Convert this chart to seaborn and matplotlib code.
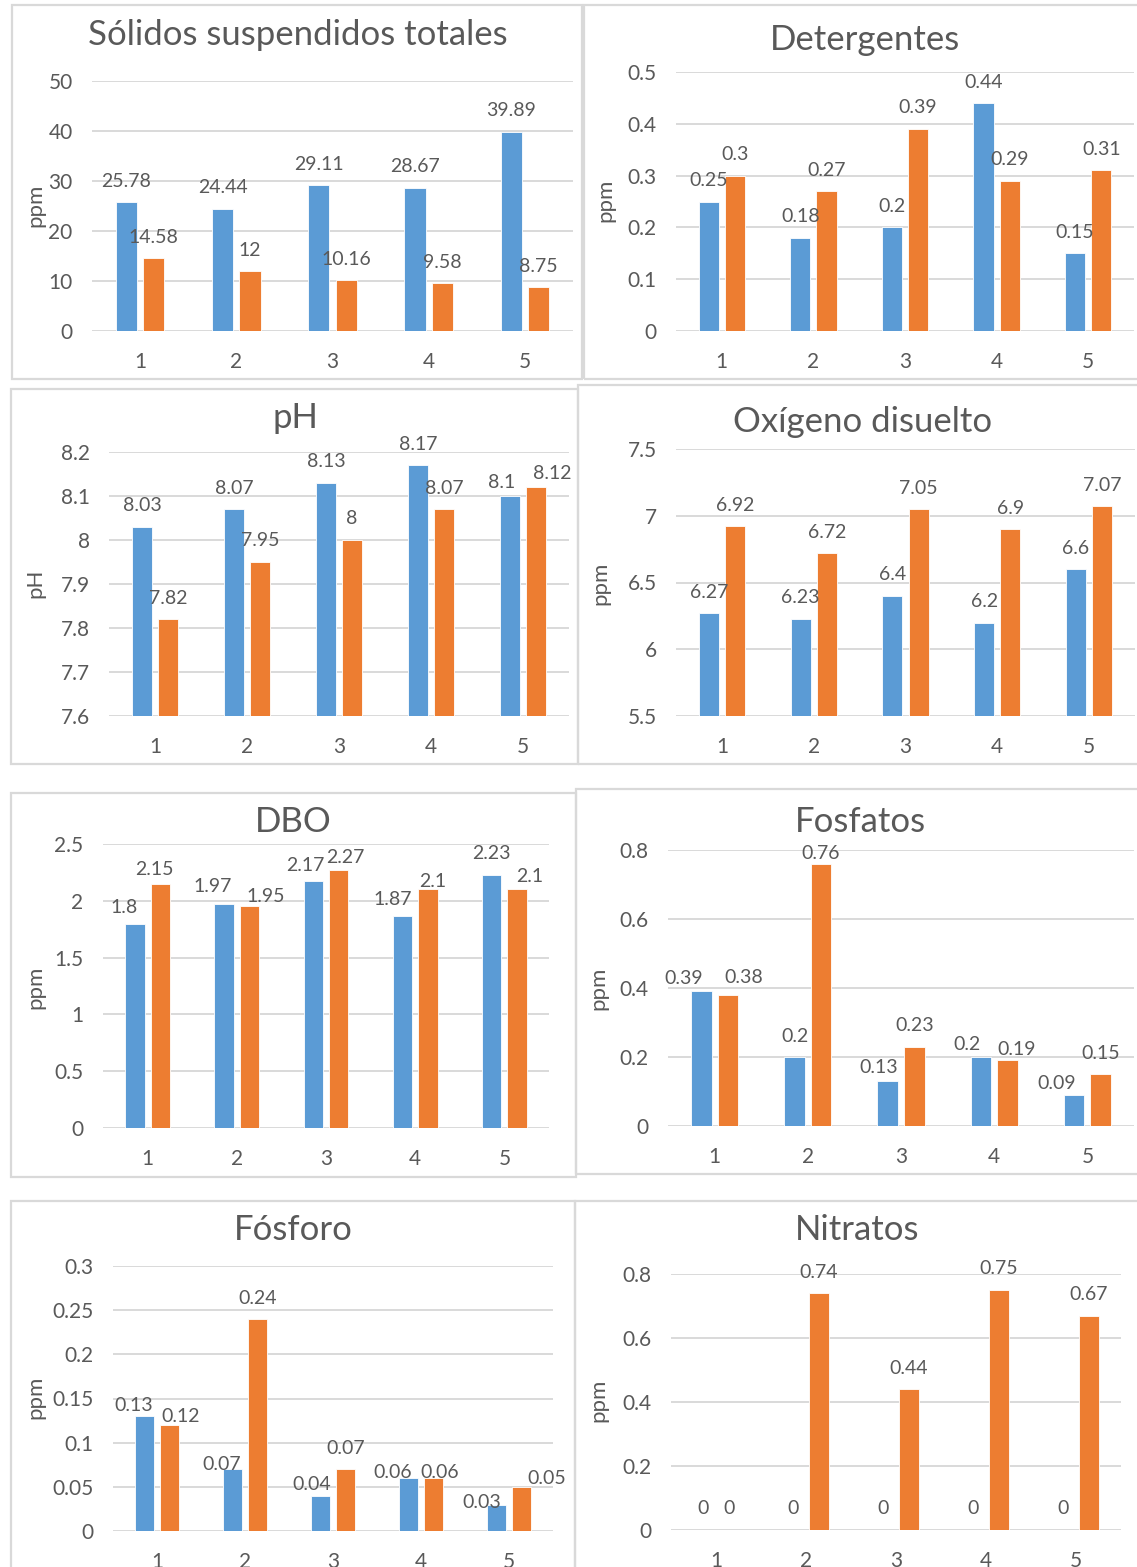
import matplotlib
matplotlib.use("Agg")
import matplotlib.pyplot as plt
from matplotlib.patches import Rectangle
from matplotlib.ticker import FuncFormatter, MultipleLocator
import numpy as np
import pandas as pd
import seaborn as sns

sns.set_theme(style="white")
plt.rcParams["font.family"] = ["Lato", "DejaVu Sans"]

W, H = 1137, 1567

puntos = ["1", "2", "3", "4", "5"]
series = ["Serie 1", "Serie 2"]
colores = {"Serie 1": "#5B9BD5", "Serie 2": "#ED7D31"}

sst_1 = [25.78, 24.44, 29.11, 28.67, 39.89]
sst_2 = [14.58, 12, 10.16, 9.58, 8.75]
det_1 = [0.25, 0.18, 0.2, 0.44, 0.15]
det_2 = [0.3, 0.27, 0.39, 0.29, 0.31]
ph_1 = [8.03, 8.07, 8.13, 8.17, 8.1]
ph_2 = [7.82, 7.95, 8, 8.07, 8.12]
od_1 = [6.27, 6.23, 6.4, 6.2, 6.6]
od_2 = [6.92, 6.72, 7.05, 6.9, 7.07]
dbo_1 = [1.8, 1.97, 2.17, 1.87, 2.23]
dbo_2 = [2.15, 1.95, 2.27, 2.1, 2.1]
fosfatos_1 = [0.39, 0.2, 0.13, 0.2, 0.09]
fosfatos_2 = [0.38, 0.76, 0.23, 0.19, 0.15]
fosforo_1 = [0.13, 0.07, 0.04, 0.06, 0.03]
fosforo_2 = [0.12, 0.24, 0.07, 0.06, 0.05]
nitratos_1 = [0, 0, 0, 0, 0]
nitratos_2 = [0, 0.74, 0.44, 0.75, 0.67]

# Hand-placed nudges (px) for data labels that would otherwise collide:
# one (dx, dy) per label, first series then second series.
ajustes = {
    "pH": [(0, 0), (0, 0), (0, 0), (0, 0), (-8, -8),
           (0, 0), (0, 0), (0, 0), (0, 0), (16, -7)],
    "DBO": [(-11, -5), (-11, -3), (-8, -5), (-10, -5), (0, 0),
            (-6, -7), (16, -11), (7, -8), (5, -13), (13, -8)],
    "Fosfatos": [(-18, -8), (0, 0), (-9, -7), (-14, -8), (-17, -10),
                 (16, -4), (0, -11), (0, 0), (9, -10), (0, 0)],
    "Fósforo": [(-11, -10), (-11, -16), (-9, -10), (-16, -15), (-15, -19),
                (11, -13), (0, 0), (0, 0), (6, -15), (25, -13)],
}

# title, y label, values, (ymin, ymax, step), axes box px (x0, x1, ytop, ybot),
# frame px (x0, x1, y0, y1), title centre px, y-label centre px
paneles = [
    ("Sólidos suspendidos totales", "ppm", sst_1, sst_2, (0, 50, 10),
     (92, 573, 81, 331), (12, 582, 5, 379), (298, 35), (35, 205)),
    ("Detergentes", "ppm", det_1, det_2, (0, 0.5, 0.1),
     (676, 1134, 72, 331), (584, 1140, 5, 379), (865, 40), (605, 200)),
    ("pH", "pH", ph_1, ph_2, (7.6, 8.2, 0.1),
     (109, 569, 452, 716), (11, 578, 389, 764), (295, 418), (35, 583)),
    ("Oxígeno disuelto", "ppm", od_1, od_2, (5.5, 7.5, 0.5),
     (676, 1135, 449, 716), (578, 1140, 385, 764), (863, 422), (600, 583)),
    ("DBO", "ppm", dbo_1, dbo_2, (0, 2.5, 0.5),
     (103, 549, 844, 1128), (11, 576, 793, 1177), (293, 822), (35, 987)),
    ("Fosfatos", "ppm", fosfatos_1, fosfatos_2, (0, 0.8, 0.2),
     (668, 1134, 850, 1126), (576, 1140, 789, 1174), (860, 822), (598, 988)),
    ("Fósforo", "ppm", fosforo_1, fosforo_2, (0, 0.3, 0.05),
     (113, 553, 1266, 1531), (11, 575, 1201, 1580), (293, 1230), (35, 1397)),
    ("Nitratos", "ppm", nitratos_1, nitratos_2, (0, 0.8, 0.2),
     (671, 1121, 1274, 1530), (575, 1140, 1201, 1580), (857, 1230), (598, 1400)),
]

GRIS = "#595959"
REJILLA = "#D9D9D9"
PT = 0.72  # points per pixel at 100 dpi
PAD_ETIQUETA = 9

fig = plt.figure(figsize=(W / 100, H / 100), dpi=100)
fig.patch.set_facecolor("white")


def fx(px):
    return px / W


def fy(py):
    return 1 - py / H


fmt_eje = FuncFormatter(lambda v, _: f"{round(v, 3):g}")

for (titulo, ylab, v1, v2, (ymin, ymax, paso), caja, marco,
     pos_t, pos_y) in paneles:
    fx0, fx1, fy0, fy1 = marco
    fig.patches.append(Rectangle((fx(fx0), fy(fy1)), fx(fx1 - fx0), (fy1 - fy0) / H,
                                 transform=fig.transFigure, fill=False,
                                 edgecolor=REJILLA, linewidth=1.6, zorder=0))

    x0, x1, yt, yb = caja
    ax = fig.add_axes([fx(x0), fy(yb), fx(x1 - x0), (yb - yt) / H])
    df = pd.DataFrame({
        "punto": puntos * 2,
        "serie": [series[0]] * 5 + [series[1]] * 5,
        "valor": list(v1) + list(v2),
    })
    sns.barplot(data=df, x="punto", y="valor", hue="serie", palette=colores,
                saturation=1, width=0.57, gap=0.23, legend=False, ax=ax,
                edgecolor="white", linewidth=0.6, zorder=3)
    ax.set_ylim(ymin, ymax)
    ax.yaxis.set_major_locator(MultipleLocator(paso))
    ax.yaxis.set_major_formatter(fmt_eje)
    ax.set_xlim(-0.5, 4.5)
    ax.grid(axis="y", color=REJILLA, linewidth=1.4, zorder=0)
    ax.grid(axis="x", visible=False)
    for s in ax.spines.values():
        s.set_visible(False)
    ax.set_xlabel("")
    ax.set_ylabel("")
    ax.tick_params(axis="both", length=0, labelsize=15, labelcolor=GRIS)
    ax.tick_params(axis="y", pad=14)
    ax.tick_params(axis="x", pad=15)
    ax.set_facecolor("none")
    ax.set_axisbelow(True)

    etiquetas = []
    for cont in ax.containers:
        etiquetas += ax.bar_label(cont, fmt="{:g}", padding=PAD_ETIQUETA,
                                  fontsize=14, color=GRIS, clip_on=False)
    nudges = ajustes.get(titulo, [(0, 0)] * len(etiquetas))
    for et, (dx, dy) in zip(etiquetas, nudges):
        et.xyann = (dx * PT, PAD_ETIQUETA + dy * PT)

    fig.text(fx(pos_t[0]), fy(pos_t[1]), titulo, fontsize=25, color=GRIS,
             ha="center", va="center")
    fig.text(fx(pos_y[0]), fy(pos_y[1]), ylab, fontsize=16, color=GRIS,
             ha="center", va="center", rotation=90)

fig.savefig("out.png", dpi=100, facecolor="white")
